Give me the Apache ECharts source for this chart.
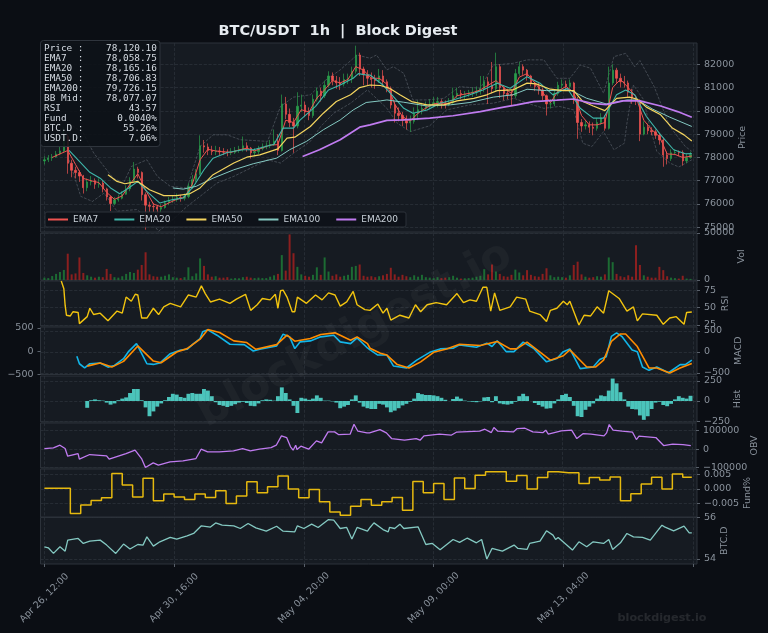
<!DOCTYPE html>
<html>
<head>
<meta charset="utf-8">
<title>BTC/USDT 1h | Block Digest</title>
<script src="https://cdn.jsdelivr.net/npm/echarts@6/dist/echarts.min.js"></script>
<style>
  html, body { margin: 0; padding: 0; background: #0b0e14; }
  #chart { width: 768px; height: 633px; }
</style>
</head>
<body>
<div id="chart"></div>
<script>
// x positions are hours since Apr 26 12:00
var tickLabels = ['Apr 26, 12:00', 'Apr 30, 16:00', 'May 04, 20:00', 'May 09, 00:00', 'May 13, 04:00'];
var tickHours = [0, 100, 200, 300, 400, 500];

// one candle every 3 hours
var opens = [77850,77900,77980,78020,78150,78280,78900,77750,77450,77350,77200,76700,76950,77000,76850,76900,76650,76300,76020,76180,76250,76420,76650,77000,77500,77350,76400,75950,75900,75880,75780,75850,76050,76150,76200,76280,76250,76320,76750,77050,77300,78500,78450,78300,78250,78280,78240,78230,78200,78220,78300,78350,78500,78400,78200,78250,78380,78450,78500,78560,78700,78300,80300,79850,79500,79350,80200,80250,79950,79800,80500,80850,80650,81100,81500,81300,81200,81150,81350,81400,81700,82400,81800,81550,81400,81350,81300,81500,81250,80950,80250,79900,79800,79600,79480,79550,79900,80050,80100,80200,80280,80350,80400,80320,80260,80350,80650,80750,80700,80720,80780,80800,80850,80950,81250,81100,80950,81900,81000,80750,80700,80650,81600,81900,81750,81500,81200,81050,80900,80650,80300,80300,80750,81100,81150,81050,81200,80450,79500,79350,79400,79300,79250,79500,79700,79250,81200,81750,81400,81250,81200,80800,80550,80450,79000,79300,79150,79100,78950,78750,78100,77950,78200,78220,78200,77850,78000];
var closes = [77900,77980,78020,78150,78280,78900,77750,77450,77350,77200,76700,76950,77000,76850,76900,76650,76300,76020,76180,76250,76420,76650,77000,77500,77350,76400,75950,75900,75880,75780,75850,76050,76150,76200,76280,76250,76320,76750,77050,77300,78500,78450,78300,78250,78280,78240,78230,78200,78220,78300,78350,78500,78400,78200,78250,78380,78450,78500,78560,78700,78300,80300,79850,79500,79350,80200,80250,79950,79800,80500,80850,80650,81100,81500,81300,81200,81150,81350,81400,81700,82400,81800,81550,81400,81350,81300,81500,81250,80950,80250,79900,79800,79600,79480,79550,79900,80050,80100,80200,80280,80350,80400,80320,80260,80350,80650,80750,80700,80720,80780,80800,80850,80950,81250,81100,80950,81900,81000,80750,80700,80650,81600,81900,81750,81500,81200,81050,80900,80650,80300,80300,80750,81100,81150,81050,81200,80450,79500,79350,79400,79300,79250,79500,79700,79250,81200,81750,81400,81250,81200,80800,80550,80450,79000,79300,79150,79100,78950,78750,78100,77950,78200,78220,78200,77850,78000,78120];
var highs = [78050,78100,78150,78280,78450,79300,79000,77900,77600,77450,77250,77100,77200,77100,77100,77000,76700,76350,76300,76400,76550,76800,77150,77800,77600,77400,76500,76100,76050,75950,76000,76150,76300,76350,76450,76400,76450,76900,77250,77500,78950,78750,78600,78500,78500,78450,78400,78350,78400,78450,78500,78900,78650,78450,78400,78500,78600,78650,78750,79200,79000,80700,80600,80100,79700,80800,80700,80400,80150,80700,81000,81000,81300,81700,81650,81500,81450,81600,81600,81900,82800,82500,81900,81750,81650,81550,81800,81750,81350,81050,80400,80150,79950,79800,79800,80150,80450,80350,80400,80500,80600,80600,80500,80450,80550,81000,81000,80900,80850,80900,81000,81050,81500,81500,81450,82100,82500,82000,81100,80950,80900,81800,82100,82000,81800,81550,81250,81200,81000,80700,80500,80900,81250,81350,81300,81350,81250,80600,79650,79600,79550,79500,79700,79900,79800,81900,82000,81850,81600,81500,81300,80950,80650,80500,79550,79450,79300,79200,79050,78850,78250,78350,78350,78300,78300,78150,78250];
var lows = [77700,77800,77850,78000,78100,78200,77300,77150,77100,76950,76450,76550,76800,76650,76700,76500,76150,75700,75950,76100,76200,76400,76550,76950,77100,76150,74900,75650,75650,75400,75600,75800,75950,76050,76100,76100,76150,76250,76650,76950,77250,78200,78100,78100,78100,78100,78100,78050,78100,78150,78200,78250,78250,77950,78050,78150,78300,78350,78400,78500,78100,78250,79650,79300,78200,79250,79950,79750,79600,79700,80400,80400,80550,81000,81100,80950,80900,81050,81150,81200,81600,81500,81100,81100,81000,80950,81200,81050,80800,80100,79500,79550,79350,79200,79100,79450,79600,79850,80000,80100,80200,80150,80100,80100,80200,80300,80550,80500,80500,80600,80600,80650,80700,80800,80300,80750,80850,80550,80450,80500,80250,80550,81500,81550,81300,81050,80850,80700,80450,79800,80100,80200,80650,80950,80850,80950,80300,78800,79100,79200,79050,78950,79150,79400,79150,79200,81100,81200,81000,81000,80600,80300,80250,78700,78950,79000,78950,78800,78550,77600,77700,77850,78100,78050,77650,77750,77950];
var volumes = [2500,2000,4200,6500,8500,10700,28000,6000,7000,24000,7500,5000,3500,2500,3500,3000,11800,6500,3000,2500,4000,6500,8500,7500,11000,16000,29500,6000,4000,3500,3500,4500,6000,3000,2500,2000,3000,13500,4000,7000,23000,15000,6000,3500,4000,2500,2500,3000,1500,2000,1800,3000,3500,2500,2000,2500,2000,2000,3500,5000,6500,26500,10000,48500,28500,14000,6000,4500,3500,5500,13500,5500,24000,9000,4500,6000,3500,4500,5500,14000,15000,16500,4500,3500,4000,3000,4000,5000,6500,13000,6000,3500,5500,4000,3000,5000,3500,5500,3000,2500,2000,3000,2000,2500,3000,4500,2500,1500,1800,2000,2500,3500,4500,11500,6000,16500,9000,6500,4000,3500,5500,11000,8000,5000,10500,5500,4000,3500,6500,12500,5000,3000,3500,3000,2500,5000,16000,19500,6000,3500,2500,3000,4000,3500,6000,24000,19000,6500,4000,3000,5000,3500,37000,16000,5000,3500,2500,2500,14000,10500,4000,2500,2000,1500,4500,1500,1200];

var ema7Hours = [6,12,18,24,30,36,42,48,54,60,66,72,78,84,90,96,102,108,114,120,126,132,138,144,150,156,162,168,174,180,186,192,198,204,210,216,222,228,234,240,246,252,258,264,270,276,282,288,294,300,306,312,318,324,330,336,342,348,354,360,366,372,378,384,390,396,402,408,414,420,426,432,438,444,450,456,462,468,474,480,486,492,499];
var ema7Values = [78000,78150,78300,77700,77100,77000,76920,76500,76200,76350,76850,77300,76600,76000,75880,76050,76200,76290,76850,77900,78350,78280,78240,78220,78320,78400,78280,78410,78530,78550,79600,79500,80050,79950,80550,80900,81300,81200,81350,81900,81750,81400,81400,81150,80300,79750,79560,79900,80120,80300,80340,80320,80650,80720,80780,80900,81100,81300,81000,80750,81450,81600,81200,80800,80350,80850,81050,80800,79800,79400,79400,79500,81000,81350,81000,80600,79600,79200,78900,78150,78130,78000,78059];
var ema20Hours = [19,35,43,51,58,65,72,79,89,99,107,115,123,130,141,153,161,177,184,192,197,209,219,228,238,242,248,251,261,269,277,284,295,305,315,328,338,349,359,372,382,392,403,413,423,431,441,448,455,464,475,485,494,499];
var ema20Values = [78300,77360,77110,76690,76440,76690,76970,76540,76040,76190,76260,76760,77470,77970,78210,78330,78330,78570,79260,79260,79600,80190,80900,81110,81400,81600,81540,81540,81110,80610,80110,79900,80040,80330,80470,80690,80900,81190,80970,81470,81190,80690,80970,80110,79690,79690,80690,80900,80690,79760,78970,78330,78160,78165];
var ema50Hours = [49,56,62,72,81,92,102,112,120,130,146,156,166,180,187,193,205,215,225,236,243,251,259,266,274,283,295,308,318,331,341,349,361,372,379,390,400,408,415,423,432,441,451,457,464,475,484,493,499];
var ema50Values = [77260,76970,76870,76970,76610,76360,76360,76440,76690,77260,77760,78010,78110,78370,78830,78870,79330,79900,80400,80690,81000,81110,81090,80970,80690,80400,80260,80260,80430,80540,80690,80870,80900,81190,81160,80930,80870,80870,80400,80210,80010,80540,80590,80500,80160,79830,79260,78970,78707];
var ema100Hours = [99,107,117,130,146,161,179,189,202,215,228,238,248,259,264,277,295,313,328,346,361,372,387,405,418,433,449,457,469,482,499];
var ema100Values = [76690,76640,76760,77110,77470,77730,77970,78330,78690,79190,79610,80040,80360,80430,80470,80370,80210,80260,80360,80590,80690,80930,80870,80900,80540,80300,80470,80470,80070,79730,79330];
var ema200Hours = [199,212,228,243,251,264,277,297,315,336,354,364,377,395,408,421,433,446,459,475,488,499];
var ema200Values = [78040,78330,78760,79300,79400,79590,79610,79690,79790,79970,80160,80260,80400,80460,80510,80330,80270,80430,80430,80210,79970,79726];

var bbUpperHours = [19,30,38,46,53,61,67,79,87,97,110,120,130,141,151,172,182,192,205,217,228,241,251,256,264,269,277,284,295,308,320,336,346,361,372,385,395,405,413,421,431,439,448,455,459,470,482,494,499];
var bbUpperValues = [79470,79040,78190,77610,77110,76900,77610,77900,77190,76760,76690,78470,78970,78970,78760,78690,80190,80590,80690,81330,81760,82400,82260,82400,81760,81900,81610,80470,80470,80540,81040,80970,81970,82040,82190,82190,81400,81400,81970,81830,80760,82330,82470,81900,82160,81040,79330,78470,78260];
var bbLowerHours = [19,28,37,46,56,71,79,88,99,110,120,133,146,172,182,194,205,213,223,236,249,264,272,282,297,310,328,346,362,372,385,397,408,415,422,431,439,447,449,454,462,466,472,482,489,499];
var bbLowerValues = [77900,76330,76110,76470,75690,75760,75470,74830,75330,75900,76330,76900,77190,77900,77760,78260,78690,79330,79900,80330,80900,80110,79470,79110,79360,80040,80260,80330,80540,80330,80110,80190,80040,78610,78470,79110,78330,78610,79470,81110,80470,79470,78260,77760,77590,77900];

var rsiHours = [13,15,16,17,20,22,26,27,30,33,35,38,43,49,56,60,63,67,70,72,75,79,84,88,92,97,105,111,117,121,124,128,135,143,148,155,159,164,168,174,178,180,182,184,187,191,193,195,202,209,214,219,224,228,233,238,241,247,251,257,261,264,267,274,281,286,290,295,302,310,318,323,328,333,338,341,344,347,351,359,364,371,374,382,387,390,395,400,403,405,412,416,421,423,426,431,435,443,449,454,457,461,472,477,482,487,493,495,499];
var rsiValues = [88,77,53,39,38,44,43,27,32,37,49,40,42,31,45,42,65,59,69,68,35,35,49,40,51,56,51,68,65,81,70,58,62,56,62,69,46,54,63,61,69,49,74,75,65,44,44,65,56,68,61,71,68,52,58,73,54,47,46,55,42,49,32,39,35,54,44,54,57,54,70,57,61,59,79,79,45,71,46,51,65,62,45,40,30,46,49,59,54,59,25,39,38,43,51,42,74,63,45,51,31,41,39,26,35,37,26,43,43.57];

var macdHours = [25,27,31,35,43,49,54,61,65,71,75,79,84,89,97,105,110,115,120,122,126,133,143,154,161,166,179,184,189,193,197,205,213,223,228,236,241,249,251,257,264,269,279,287,297,305,315,320,333,341,345,349,356,362,369,377,387,395,400,405,413,423,428,433,437,441,445,453,457,461,466,472,481,490,494,499];
var macdValues = [-104,-280,-376,-280,-264,-360,-320,-160,16,200,-40,-280,-296,-264,-40,48,64,200,320,480,528,400,184,176,24,64,144,424,360,80,240,264,360,400,240,200,336,96,49,-73,-73,-332,-381,-194,-8,73,89,170,113,211,130,267,8,8,235,89,-235,-154,8,73,-397,-356,-178,-113,373,454,373,49,8,-356,-437,-356,-494,-300,-300,-194];
var signalHours = [33,43,52,61,72,84,90,102,110,120,126,135,146,156,163,179,187,193,205,213,224,236,241,249,251,259,264,272,281,290,300,310,320,336,349,359,364,372,390,400,405,418,425,431,437,444,448,457,466,472,482,490,499];
var signalValues = [-336,-264,-360,-224,144,-216,-256,0,80,304,536,464,264,224,64,176,400,256,320,416,456,280,360,200,89,-32,-73,-300,-381,-235,-8,73,186,154,251,73,73,235,-194,-89,49,-356,-356,-194,251,429,429,130,-381,-381,-502,-381,-275];
// one bar every 3 hours from hour 33
var histValues = [-85,10,20,10,5,-20,-45,-30,10,30,45,100,150,150,10,-80,-190,-130,-70,-30,10,50,90,80,50,40,90,100,90,90,150,130,60,-15,-50,-60,-75,-60,-40,-20,-10,-25,-60,-65,-30,10,20,15,5,60,170,100,20,-60,-150,40,30,15,30,70,40,5,5,-5,-20,-90,-70,-50,20,70,-20,-70,-90,-100,-100,-35,-45,-80,-140,-120,-90,-55,-35,-10,30,100,85,75,75,70,60,40,15,0,25,55,30,5,-5,-10,-15,-5,45,50,-15,60,-30,-40,-45,-35,-10,60,90,60,0,-25,-50,-70,-95,-90,-30,20,75,90,50,-60,-190,-200,-110,-70,-30,30,70,60,130,280,220,110,20,-70,-100,-105,-180,-235,-190,-100,-20,-10,-50,-65,-35,20,60,40,30,65];

var obvHours = [0,7,12,16,18,26,27,35,48,50,63,70,75,78,84,88,97,107,117,121,126,135,146,153,159,166,175,179,183,187,190,192,194,195,198,204,210,214,219,224,227,236,239,242,249,251,259,264,268,278,287,290,293,305,314,318,336,340,345,347,350,362,365,371,377,385,387,389,399,407,411,416,422,432,434,436,439,446,454,457,459,472,478,485,493,499];
var obvValues = [3600,7200,21600,3600,-37800,-23400,-54000,-28800,-36000,-54000,-23400,-5400,-50400,-99000,-73800,-86400,-68400,-63000,-50400,0,-14400,-14400,-9000,3600,-9000,0,9000,21600,72000,63000,12600,-5400,21600,-1800,16200,0,45000,34200,93600,93600,79200,81000,135000,97200,88200,88200,106200,88200,57600,48600,57600,48600,72000,81000,75600,91800,97200,108000,90000,117000,97200,93600,111600,113400,93600,90000,102600,81000,99000,102600,57600,84600,81000,72000,88200,133200,102600,97200,91800,52200,70200,63000,19800,27000,25200,19800];

var fundingHours = [0,20,28,36,44,52,60,68,76,84,92,100,108,116,124,132,140,148,156,164,172,180,188,196,204,212,220,228,236,244,252,260,268,276,284,292,300,308,316,324,332,340,348,356,364,372,380,388,396,404,412,420,428,436,444,452,460,468,476,484,492,499];
var fundingValues = [0.0002,-0.0085,-0.0056,-0.0040,-0.0031,0.0053,0.0013,-0.0028,0.0036,-0.0041,-0.0018,-0.0028,-0.0037,-0.0018,-0.0030,-0.0007,-0.0051,-0.0025,0.0024,-0.0014,0.0007,0.0044,-0.0001,-0.0031,-0.0002,-0.0045,-0.0080,-0.0091,-0.0060,-0.0037,-0.0057,-0.0045,-0.0030,-0.0074,0.0025,-0.0014,0.0018,-0.0037,0.0037,0.0001,0.0047,0.0059,0.0059,0.0026,0.0046,-0.0001,0.0039,0.0059,0.0055,0.0055,0.0018,0.0039,0.0030,0.0041,-0.0041,-0.0017,0.0017,0.0040,-0.0001,0.0051,0.0040,0.0040];

var btcdHours = [0,3,7,12,16,18,26,30,35,43,48,55,61,66,72,76,79,84,89,97,102,110,115,121,128,132,137,146,151,157,163,171,179,184,193,195,200,206,211,219,223,228,233,237,241,249,251,254,261,265,266,270,274,277,288,294,299,305,315,320,326,333,337,341,345,353,362,365,372,374,382,387,392,394,396,407,412,418,423,431,435,438,444,449,454,461,467,476,478,485,493,497,499];
var btcdValues = [54.59,54.54,54.27,54.59,54.38,54.91,54.99,54.75,54.86,54.91,54.67,54.27,54.72,54.48,54.70,54.67,55.07,54.62,54.83,55.04,54.96,55.12,55.23,55.60,55.54,55.74,55.63,55.60,55.47,55.71,55.50,55.34,55.58,55.34,55.31,55.60,55.47,55.68,55.52,55.90,55.87,55.47,55.52,54.96,55.52,55.34,55.52,55.74,55.42,55.31,55.52,55.47,55.68,55.47,55.55,54.70,54.75,54.45,54.94,54.80,55.01,54.78,54.94,54.00,54.51,54.38,54.67,54.51,54.46,54.75,54.86,55.36,55.15,54.94,55.04,54.43,54.83,54.59,54.83,54.75,54.94,54.46,54.78,55.23,55.07,55.04,54.91,55.63,55.55,55.36,55.58,55.26,55.26];

var infoNames = ['Price', 'EMA7', 'EMA20', 'EMA50', 'EMA200', 'BB Mid', 'RSI', 'Fund', 'BTC.D', 'USDT.D'];
var infoValues = ['78,120.10', '78,058.75', '78,165.16', '78,706.83', '79,726.15', '78,077.07', '43.57', '0.0040%', '55.26%', '7.06%'];

var COL = {
    page: '#0b0e14', plot: '#161b22', border: '#2c323a', grid: '#2b3139', text: '#8a929c',
    up: '#2a9d4a', down: '#ef5350', volUp: '#1c6b33', volDown: '#8c1f1f',
    ema7: '#ef5350', ema20: '#3fb6aa', ema50: '#f4d55f', ema100: '#84c9c2', ema200: '#c07bf0',
    rsi: '#f2c40f', macd: '#12b5e8', signal: '#ff8c00', hist: '#4ecdc4', obv: '#c07bf0', fund: '#e6b90f', btcd: '#84c9c2'
};

// category slots so that hour 0 sits a little inside the plot edge
var SLOT_SHIFT = 3;
var SLOT_COUNT = 507;
var categories = [];
for (var s = 0; s < SLOT_COUNT; s++) {
    var tickPos = tickHours.indexOf(s - SLOT_SHIFT);
    categories.push(tickPos >= 0 && tickLabels[tickPos] ? tickLabels[tickPos] : 'slot' + s);
}
function isTick(i) { return tickHours.indexOf(i - SLOT_SHIFT) >= 0; }
function isLabel(i) { var p = tickHours.indexOf(i - SLOT_SHIFT); return p >= 0 && !!tickLabels[p]; }

function pairs(hours, values) {
    return values.map(function (v, i) { return [hours[i] + SLOT_SHIFT, v]; });
}
function every(start, step, values) {
    return values.map(function (v, i) { return [start + i * step + SLOT_SHIFT, v]; });
}

var candleData = closes.map(function (c, i) {
    return [i * 3 + SLOT_SHIFT, opens[i], c, lows[i], highs[i]];
});
var volumeData = volumes.map(function (v, i) {
    return {
        value: [i * 3 + SLOT_SHIFT, v],
        itemStyle: { color: closes[i] >= opens[i] ? COL.volUp : COL.volDown }
    };
});

// panel boxes in pixels
var panels = [
    { top: 43, bottom: 232 }, { top: 233, bottom: 280 }, { top: 281, bottom: 326 }, { top: 327, bottom: 374.5 },
    { top: 376, bottom: 422 }, { top: 423, bottom: 468 }, { top: 469, bottom: 517 }, { top: 517.5, bottom: 564 }
];
var grids = panels.map(function (p) {
    return {
        left: 40.5, width: 656.5, top: p.top, height: p.bottom - p.top,
        show: true, backgroundColor: COL.plot, borderColor: COL.border, borderWidth: 1
    };
});
var xAxes = panels.map(function (p, i) {
    var last = i === panels.length - 1;
    return {
        type: 'category', gridIndex: i, data: categories, boundaryGap: false,
        axisLine: { show: false },
        axisTick: { show: last, interval: function (idx) { return isTick(idx); }, length: 3, lineStyle: { color: '#59606a' } },
        axisLabel: {
            show: last, interval: function (idx) { return isLabel(idx); }, rotate: 45, align: 'center', verticalAlign: 'middle',
            margin: 34, color: COL.text, fontSize: 9.5, fontFamily: 'DejaVu Sans'
        },
        splitLine: { show: true, interval: function (idx) { return isTick(idx); }, lineStyle: { color: COL.grid, type: 'dashed', width: 0.8 } }
    };
});

function minusSign(v) { return String(v).replace('-', '\u2212'); }
function makeY(i, min, max, ticks, name, gap, fmt, pos) {
    return {
        type: 'value', gridIndex: i, position: pos || 'right', min: min, max: max,
        name: name, nameLocation: 'middle', nameGap: gap, nameRotate: 90, nameMoveOverlap: false,
        nameTextStyle: { color: COL.text, fontSize: 9.5, fontFamily: 'DejaVu Sans' },
        axisLine: { show: false },
        axisTick: { show: true, length: 3, customValues: ticks, lineStyle: { color: '#59606a' } },
        axisLabel: { customValues: ticks, color: COL.text, fontSize: 9.5, margin: 7, fontFamily: 'DejaVu Sans', formatter: fmt || minusSign },
        splitLine: { show: pos !== 'left', lineStyle: { color: COL.grid, type: 'dashed', width: 0.8 } }
    };
}
var yAxes = [
    makeY(0, 74798, 82915, [75000, 76000, 77000, 78000, 79000, 80000, 81000, 82000], 'Price', 41),
    makeY(1, 0, 50000, [0, 50000], 'Vol', 40),
    makeY(2, 23.6, 88, [25, 50, 75], 'RSI', 24),
    makeY(3, -536, 595, [-500, 0, 500], 'MACD', 37),
    makeY(4, -262, 312, [-250, 0, 250], 'Hist', 36),
    makeY(5, -101600, 141600, [-100000, 0, 100000], 'OBV', 54),
    makeY(6, -0.00972, 0.00683, [-0.005, 0, 0.005], 'Fund%', 46, function (v) { return minusSign(v.toFixed(3)); }),
    makeY(7, 53.76, 56, [54, 56], 'BTC.D', 23),
    makeY(3, -505, 520, [-500, 0, 500], '', 0, null, 'left')
];

function line(name, data, color, width, gridIdx, extra) {
    var s = {
        name: name, type: 'line', data: data, xAxisIndex: gridIdx, yAxisIndex: gridIdx,
        symbol: 'none', silent: true, lineStyle: { color: color, width: width }, itemStyle: { color: color }
    };
    for (var k in extra) { s[k] = extra[k]; }
    return s;
}
var bbStyle = { lineStyle: { color: 'rgba(150,158,168,0.5)', width: 0.7, type: 'dashed' }, z: 2 };

var series = [
    line('BB Upper', pairs(bbUpperHours, bbUpperValues), '#969ea8', 0.7, 0, bbStyle),
    line('BB Lower', pairs(bbLowerHours, bbLowerValues), '#969ea8', 0.7, 0, bbStyle),
    {
        name: 'Price', type: 'candlestick', data: candleData, encode: { x: 0, y: [1, 2, 3, 4] }, barWidth: 1.8, z: 3, silent: true,
        itemStyle: { color: COL.up, color0: COL.down, borderColor: COL.up, borderColor0: COL.down, borderWidth: 0.7 }
    },
    line('EMA7', pairs(ema7Hours, ema7Values), COL.ema7, 1, 0, { z: 4 }),
    line('EMA20', pairs(ema20Hours, ema20Values), COL.ema20, 1.1, 0, { z: 5 }),
    line('EMA50', pairs(ema50Hours, ema50Values), COL.ema50, 1.2, 0, { z: 6 }),
    line('EMA100', pairs(ema100Hours, ema100Values), COL.ema100, 1, 0, { z: 5 }),
    line('EMA200', pairs(ema200Hours, ema200Values), COL.ema200, 1.7, 0, { z: 6 }),
    { name: 'Vol', type: 'bar', data: volumeData, xAxisIndex: 1, yAxisIndex: 1, barWidth: 2, silent: true },
    line('RSI', pairs(rsiHours, rsiValues), COL.rsi, 1.4, 2),
    line('MACD', pairs(macdHours, macdValues), COL.macd, 1.6, 3),
    line('Signal', pairs(signalHours, signalValues), COL.signal, 1.6, 3),
    {
        name: 'Hist', type: 'bar', data: every(33, 3, histValues), xAxisIndex: 4, yAxisIndex: 4, barWidth: 3.9, silent: true,
        itemStyle: { color: COL.hist, opacity: 0.95 }
    },
    line('OBV', pairs(obvHours, obvValues), COL.obv, 1.3, 5),
    line('Fund', pairs(fundingHours, fundingValues), COL.fund, 1.5, 6, { step: 'end' }),
    line('BTC.D', pairs(btcdHours, btcdValues), COL.btcd, 1.3, 7)
];

var infoText = infoNames.map(function (n, i) {
    var left = (n + '      ').slice(0, 6) + ':';
    var right = ('            ' + infoValues[i]).slice(-12);
    return left + ' ' + right;
}).join('\n');

var legendNames = ['EMA7', 'EMA20', 'EMA50', 'EMA100', 'EMA200'];

var option = {
    animation: false,
    backgroundColor: COL.page,
    title: {
        text: 'BTC/USDT  1h  |  Block Digest', left: 337, top: 19, textAlign: 'center',
        textStyle: { color: '#e6ebf0', fontSize: 14.5, fontWeight: 'bold', fontFamily: 'DejaVu Sans' }
    },
    grid: grids,
    xAxis: xAxes,
    yAxis: yAxes,
    legend: {
        data: legendNames.map(function (n) { return { name: n, icon: 'rect' }; }),
        left: 45, top: 212, padding: [3, 8, 3, 3], itemWidth: 20, itemHeight: 2, itemGap: 16,
        backgroundColor: 'rgba(13,17,23,0.85)', borderColor: '#2c323a', borderWidth: 1, borderRadius: 2,
        textStyle: { color: '#c9d1d9', fontSize: 9, fontFamily: 'DejaVu Sans' }, selectedMode: false
    },
    series: series,
    graphic: [
        {
            type: 'text', x: 355, y: 335, rotation: Math.PI / 6.4, z: 50, silent: true,
            style: { text: 'blockdigest.io', font: 'bold 44px "DejaVu Sans"', fill: 'rgba(255,255,255,0.035)', align: 'center', verticalAlign: 'middle' }
        },
        {
            type: 'text', x: 662, y: 618, z: 50, silent: true,
            style: { text: 'blockdigest.io', font: 'bold 11.2px "DejaVu Sans"', fill: 'rgba(255,255,255,0.11)', align: 'center', verticalAlign: 'middle' }
        },
        {
            type: 'rect', z: 60, silent: true,
            shape: { x: 40.5, y: 40.5, width: 119.5, height: 106, r: 3 },
            style: { fill: 'rgba(13,17,23,0.88)', stroke: '#2f353d', lineWidth: 1 }
        },
        {
            type: 'text', x: 44, y: 44, z: 61, silent: true,
            style: { text: infoText, font: '9.4px "DejaVu Sans Mono"', lineHeight: 10, fill: '#d5dbe2' }
        }
    ]
};

// title centre is 4px left of where left:337 puts it
option.title.left = 333;

var chart = echarts.init(document.getElementById('chart'), null, { renderer: 'canvas' });
chart.setOption(option);
</script>
</body>
</html>
